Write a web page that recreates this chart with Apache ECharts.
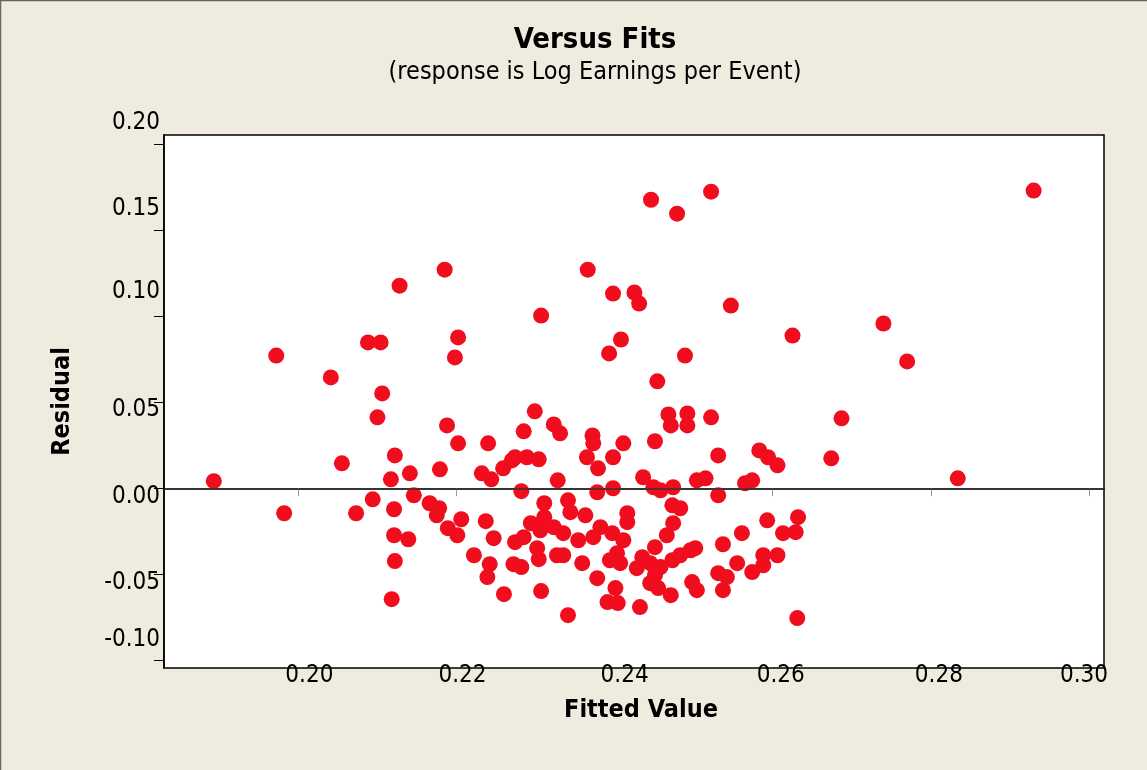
<!DOCTYPE html>
<html>
<head>
<meta charset="utf-8">
<script src="https://cdn.jsdelivr.net/npm/echarts@6/dist/echarts.min.js"></script>
<style>
  html, body { margin: 0; padding: 0; background: #EFEBDE; }
  #main { width: 1147px; height: 770px; }
</style>
</head>
<body>
<div id="main"></div>
<script>
// values (fitted value, residual)
var fittedValues = [
  0.1893, 0.1972, 0.1982, 0.2041, 0.2055, 0.2073, 0.2088, 0.2104, 0.2100, 0.2106,
  0.2094, 0.2117, 0.2122, 0.2121, 0.2121, 0.2122, 0.2118, 0.2128, 0.2185, 0.2202,
  0.2198, 0.2139, 0.2141, 0.2146, 0.2166, 0.2178, 0.2175, 0.2179, 0.2188, 0.2202,
  0.2189, 0.2201, 0.2206, 0.2222, 0.2237, 0.2247, 0.2240, 0.2232, 0.2244, 0.2242,
  0.2239, 0.2260, 0.2259, 0.2270, 0.2274, 0.2289, 0.2304, 0.2299, 0.2285, 0.2323,
  0.2331, 0.2282, 0.2272, 0.2282, 0.2274, 0.2285, 0.2294, 0.2311, 0.2311, 0.2306,
  0.2302, 0.2304, 0.2307, 0.2323, 0.2335, 0.2341, 0.2344, 0.2327, 0.2335, 0.2354,
  0.2363, 0.2373, 0.2359, 0.2378, 0.2341, 0.2328, 0.2365, 0.2372, 0.2373, 0.2379,
  0.2378, 0.2307, 0.2366, 0.2393, 0.2408, 0.2398, 0.2425, 0.2431, 0.2446, 0.2479,
  0.2522, 0.2454, 0.2489, 0.2547, 0.2625, 0.2468, 0.2471, 0.2492, 0.2492, 0.2522,
  0.2451, 0.2411, 0.2398, 0.2436, 0.2449, 0.2458, 0.2474, 0.2504, 0.2515, 0.2531,
  0.2531, 0.2565, 0.2574, 0.2583, 0.2594, 0.2606, 0.2398, 0.2416, 0.2416, 0.2382,
  0.2397, 0.2411, 0.2403, 0.2394, 0.2407, 0.2401, 0.2391, 0.2404, 0.2432, 0.2451,
  0.2435, 0.2428, 0.2445, 0.2458, 0.2451, 0.2445, 0.2455, 0.2471, 0.2466, 0.2474,
  0.2473, 0.2483, 0.2473, 0.2483, 0.2496, 0.2502, 0.2498, 0.2504, 0.2537, 0.2531,
  0.2542, 0.2537, 0.2555, 0.2561, 0.2574, 0.2593, 0.2588, 0.2588, 0.2606, 0.2613,
  0.2629, 0.2632, 0.2631, 0.2930, 0.2740, 0.2770, 0.2687, 0.2674, 0.2834
];
var residuals = [
  0.0041, 0.0771, -0.0145, 0.0644, 0.0145, -0.0145, 0.0847, 0.0847, 0.0412, 0.0551,
  -0.0064, 0.0052, 0.0191, -0.0122, -0.0273, -0.0423, -0.0644, 0.1177, 0.1270, 0.0876,
  0.0760, -0.0296, 0.0087, -0.0041, -0.0087, -0.0116, -0.0157, 0.0110, 0.0365, 0.0261,
  -0.0232, -0.0273, -0.0180, -0.0389, -0.0191, -0.0290, 0.0261, 0.0087, 0.0052, -0.0441,
  -0.0516, -0.0615, 0.0116, 0.0162, 0.0180, 0.0180, 0.0168, 0.0447, 0.0331, 0.0371,
  0.0319, -0.0017, -0.0441, -0.0458, -0.0313, -0.0284, -0.0203, -0.0087, -0.0168, -0.0244,
  -0.0348, -0.0412, -0.0597, -0.0226, -0.0261, -0.0070, -0.0139, -0.0389, -0.0389, -0.0302,
  -0.0157, -0.0284, -0.0435, -0.0522, -0.0737, 0.0046, 0.0180, 0.0307, 0.0261, 0.0116,
  -0.0023, 0.1003, 0.1270, 0.0783, 0.0864, 0.1131, 0.1137, 0.1073, 0.1676, 0.1595,
  0.1723, 0.0621, 0.0771, 0.1061, 0.0887, 0.0429, 0.0365, 0.0435, 0.0365, 0.0412,
  0.0273, 0.0261, 0.0180, 0.0064, 0.0006, -0.0012, 0.0006, 0.0046, 0.0058, 0.0191,
  -0.0041, 0.0029, 0.0046, 0.0220, 0.0180, 0.0133, 0.0000, -0.0145, -0.0197, -0.0226,
  -0.0261, -0.0302, -0.0377, -0.0418, -0.0435, -0.0580, -0.0661, -0.0667, -0.0690, -0.0342,
  -0.0400, -0.0464, -0.0435, -0.0458, -0.0505, -0.0551, -0.0580, -0.0621, -0.0273, -0.0203,
  -0.0099, -0.0116, -0.0418, -0.0389, -0.0360, -0.0348, -0.0545, -0.0592, -0.0325, -0.0493,
  -0.0516, -0.0592, -0.0435, -0.0261, -0.0487, -0.0186, -0.0389, -0.0447, -0.0389, -0.0261,
  -0.0255, -0.0168, -0.0754, 0.1729, 0.0957, 0.0737, 0.0406, 0.0174, 0.0058
];
var xTicks = [0.20, 0.22, 0.24, 0.26, 0.28, 0.30];
var yTicks = [-0.10, -0.05, 0.00, 0.05, 0.10, 0.15, 0.20];

var points = fittedValues.map(function (v, i) { return [v, residuals[i]]; });

var font = "'DejaVu Sans Condensed', 'DejaVu Sans', sans-serif";

// the tick labels in the original sit a little off their ticks
var yShift = { '0.20': 'up', '0.15': 'up', '0.10': 'up2', '0.05': 'dn', '0.00': 'dn', '-0.05': 'dn', '-0.10': 'up' };
var xShift = { '0.20': 'r11', '0.22': 'r6', '0.24': 'r10', '0.26': 'r8', '0.28': 'r8', '0.30': 'l5' };

var chart = echarts.init(document.getElementById('main'));
var option = {
  backgroundColor: '#EFEBDE',
  textStyle: { fontFamily: font },
  title: {
    text: 'Versus Fits',
    subtext: '(response is Log Earnings per Event)',
    left: 590,
    textAlign: 'center',
    top: 21,
    itemGap: 5,
    textStyle: { fontFamily: font, fontSize: 29, fontWeight: 'bold', color: '#000' },
    subtextStyle: { fontFamily: font, fontSize: 25, color: '#000' }
  },
  grid: {
    left: 164, right: 43, top: 135, bottom: 102,
    show: true, backgroundColor: '#fff', borderColor: '#000', borderWidth: 1.5
  },
  xAxis: {
    type: 'value',
    min: 0.1830, max: 0.3019,
    name: 'Fitted Value',
    nameLocation: 'middle',
    nameGap: 30,
    nameTextStyle: { fontFamily: font, fontSize: 25, fontWeight: 'bold', color: '#000', padding: [0, 0, 0, 14] },
    axisLine: { show: true, lineStyle: { color: '#000', width: 1.5 } },
    axisTick: { show: true, customValues: xTicks, length: 8, lineStyle: { color: '#999' } },
    splitLine: { show: false },
    axisLabel: {
      customValues: xTicks,
      margin: 8,
      verticalAlign: 'middle',
      fontSize: 24,
      color: '#000',
      formatter: function (v) {
        var s = v.toFixed(2);
        return '{' + xShift[s] + '|' + s + '}';
      },
      rich: {
        r11: { fontSize: 24, fontFamily: font, color: '#000', padding: [0, 0, 0, 22] },
        r10: { fontSize: 24, fontFamily: font, color: '#000', padding: [0, 0, 0, 20] },
        r8: { fontSize: 24, fontFamily: font, color: '#000', padding: [0, 0, 0, 16] },
        r6: { fontSize: 24, fontFamily: font, color: '#000', padding: [0, 0, 0, 12] },
        l5: { fontSize: 24, fontFamily: font, color: '#000', padding: [0, 10, 0, 0] }
      }
    }
  },
  yAxis: {
    type: 'value',
    min: -0.1044, max: 0.2052,
    name: 'Residual',
    nameLocation: 'middle',
    nameGap: 89,
    nameRotate: 90,
    nameTextStyle: { fontFamily: font, fontSize: 25, fontWeight: 'bold', color: '#000' },
    axisLine: { show: true, lineStyle: { color: '#000', width: 1.5 } },
    axisTick: { show: true, customValues: yTicks, length: 10, lineStyle: { color: '#000' } },
    splitLine: { show: false },
    axisLabel: {
      customValues: yTicks,
      margin: 4,
      fontSize: 24,
      color: '#000',
      formatter: function (v) {
        var s = v.toFixed(2);
        if (s === '-0.00') s = '0.00';
        return '{' + yShift[s] + '|' + s + '}';
      },
      rich: {
        up: { fontSize: 24, fontFamily: font, color: '#000', padding: [0, 0, 42, 0] },
        up2: { fontSize: 24, fontFamily: font, color: '#000', padding: [0, 0, 48, 0] },
        dn: { fontSize: 24, fontFamily: font, color: '#000', padding: [16, 0, 0, 0] }
      }
    }
  },
  graphic: [{
    type: 'rect',
    shape: { x: 0.5, y: 0.5, width: 1160, height: 780 },
    style: { fill: 'none', stroke: '#666', lineWidth: 1.5 },
    silent: true
  }],
  series: [{
    type: 'scatter',
    data: points,
    symbolSize: 16,
    itemStyle: { color: '#F00D1D', opacity: 1 },
    markLine: {
      silent: true,
      symbol: 'none',
      label: { show: false },
      lineStyle: { color: '#333', width: 1.5, type: 'solid' },
      data: [{ yAxis: 0 }]
    }
  }]
};
chart.setOption(option);
</script>
</body>
</html>
